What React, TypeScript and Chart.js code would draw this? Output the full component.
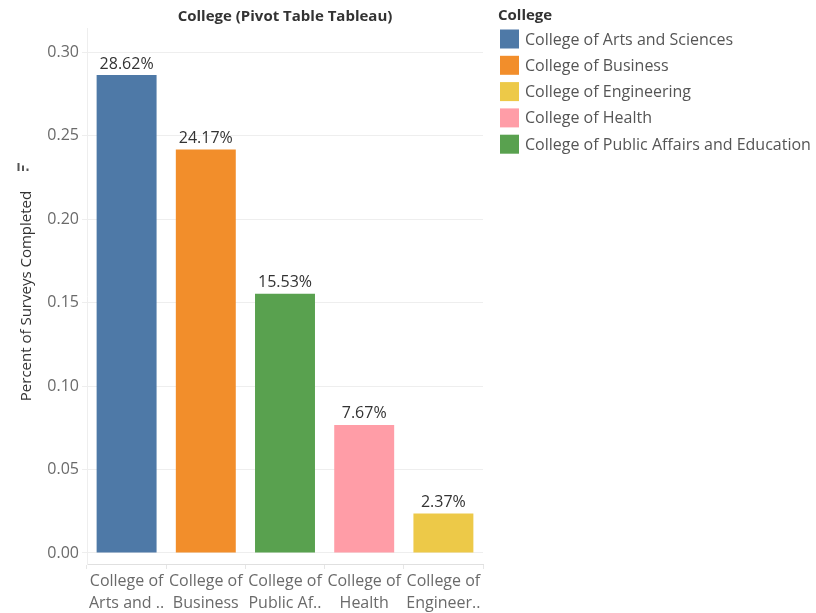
import React, { useEffect, useRef } from "react";
import { Chart, registerables } from "chart.js";

Chart.register(...registerables);

const categories = [
  ["College of", "Arts and .."],
  ["College of", "Business"],
  ["College of", "Public Af.."],
  ["College of", "Health"],
  ["College of", "Engineer.."],
];
const values = [0.2862, 0.2417, 0.1553, 0.0767, 0.0237];
const barColors = ["#4e79a7", "#f28e2b", "#59a14f", "#ff9da7", "#edc948"];
const legendTitle = "College";
const legendNames = [
  "College of Arts and Sciences",
  "College of Business",
  "College of Engineering",
  "College of Health",
  "College of Public Affairs and Education",
];
const legendColors = ["#4e79a7", "#f28e2b", "#edc948", "#ff9da7", "#59a14f"];
const yTicks = [0, 0.05, 0.1, 0.15, 0.2, 0.25, 0.3];

const FONT = "'Open Sans', 'DejaVu Sans', sans-serif";

const labelPlugin = {
  id: "barLabels",
  afterDatasetsDraw(chart: any) {
    const ctx = chart.ctx;
    const meta = chart.getDatasetMeta(0);
    ctx.save();
    ctx.font = `16px ${FONT}`;
    ctx.fillStyle = "#333333";
    ctx.textAlign = "center";
    ctx.textBaseline = "bottom";
    meta.data.forEach((bar: any, i: number) => {
      ctx.fillText((values[i] * 100).toFixed(2) + "%", bar.x, bar.y - 3);
    });
    ctx.restore();
  },
};

const legendPlugin = {
  id: "sideLegend",
  afterDraw(chart: any) {
    const ctx = chart.ctx;
    const x0 = chart.chartArea.right + 17;
    ctx.save();
    ctx.textBaseline = "middle";
    ctx.textAlign = "left";
    ctx.font = `bold 15px ${FONT}`;
    ctx.fillStyle = "#333333";
    ctx.fillText(legendTitle, x0 - 2, 16);
    ctx.font = `16px ${FONT}`;
    legendNames.forEach((name, i) => {
      const cy = 39 + i * 26.3;
      ctx.fillStyle = legendColors[i];
      ctx.fillRect(x0, cy - 9.5, 19, 19);
      ctx.fillStyle = "#555555";
      ctx.fillText(name, x0 + 25, cy + 1);
    });
    // sort icon near the y-axis title
    ctx.fillStyle = "#555555";
    ctx.fillRect(17.5, 163, 2, 8);
    ctx.fillRect(22, 165.5, 2, 5.5);
    ctx.fillRect(26.5, 168.5, 2, 2.5);
    ctx.restore();
  },
};

export default function App() {
  const ref = useRef<HTMLCanvasElement>(null);
  useEffect(() => {
    const chart = new Chart(ref.current!, {
      type: "bar",
      data: {
        labels: categories,
        datasets: [
          {
            data: values,
            backgroundColor: barColors,
            barPercentage: 0.757,
            categoryPercentage: 1,
          },
        ],
      },
      options: {
        animation: false,
        responsive: false,
        layout: { padding: { left: 18, right: 333, top: 0, bottom: 0 } },
        plugins: {
          tooltip: { enabled: false },
          legend: { display: false },
          title: {
            display: true,
            text: "College (Pivot Table Tableau)",
            fullSize: false,
            color: "#333333",
            font: { family: FONT, size: 15, weight: "bold" },
            padding: { top: 8, bottom: 2 },
          },
        },
        scales: {
          x: {
            afterFit: (axis: any) => {
              axis.height = 49;
            },
            grid: {
              offset: true,
              drawOnChartArea: false,
              drawTicks: true,
              tickLength: 5,
              color: "#e6e6e6",
            },
            border: { color: "#e0e0e0" },
            ticks: {
              color: "#6a6a6a",
              font: { family: FONT, size: 16, lineHeight: 1.4 },
              padding: 1,
              maxRotation: 0,
              autoSkip: false,
            },
          },
          y: {
            min: -0.0066,
            max: 0.3144,
            afterFit: (axis: any) => {
              axis.width = 69;
            },
            afterBuildTicks: (axis: any) => {
              axis.ticks = yTicks.map((v) => ({ value: v }));
            },
            grid: {
              color: "#eeeeee",
              tickLength: 5,
            },
            border: { color: "#eeeeee" },
            ticks: {
              color: "#6a6a6a",
              font: { family: FONT, size: 16 },
              padding: 3,
              callback: (v: any) => Number(v).toFixed(2),
            },
            title: {
              display: true,
              text: "Percent of Surveys Completed",
              color: "#333333",
              font: { family: FONT, size: 15 },
              padding: { top: 0, bottom: 0 },
            },
          },
        },
      },
      plugins: [labelPlugin, legendPlugin],
    });
    return () => chart.destroy();
  }, []);
  return (
    <div style={{ position: "fixed", left: 0, top: 0, width: 816, height: 613, background: "#fff" }}>
      <canvas ref={ref} width={816} height={613} />
    </div>
  );
}
